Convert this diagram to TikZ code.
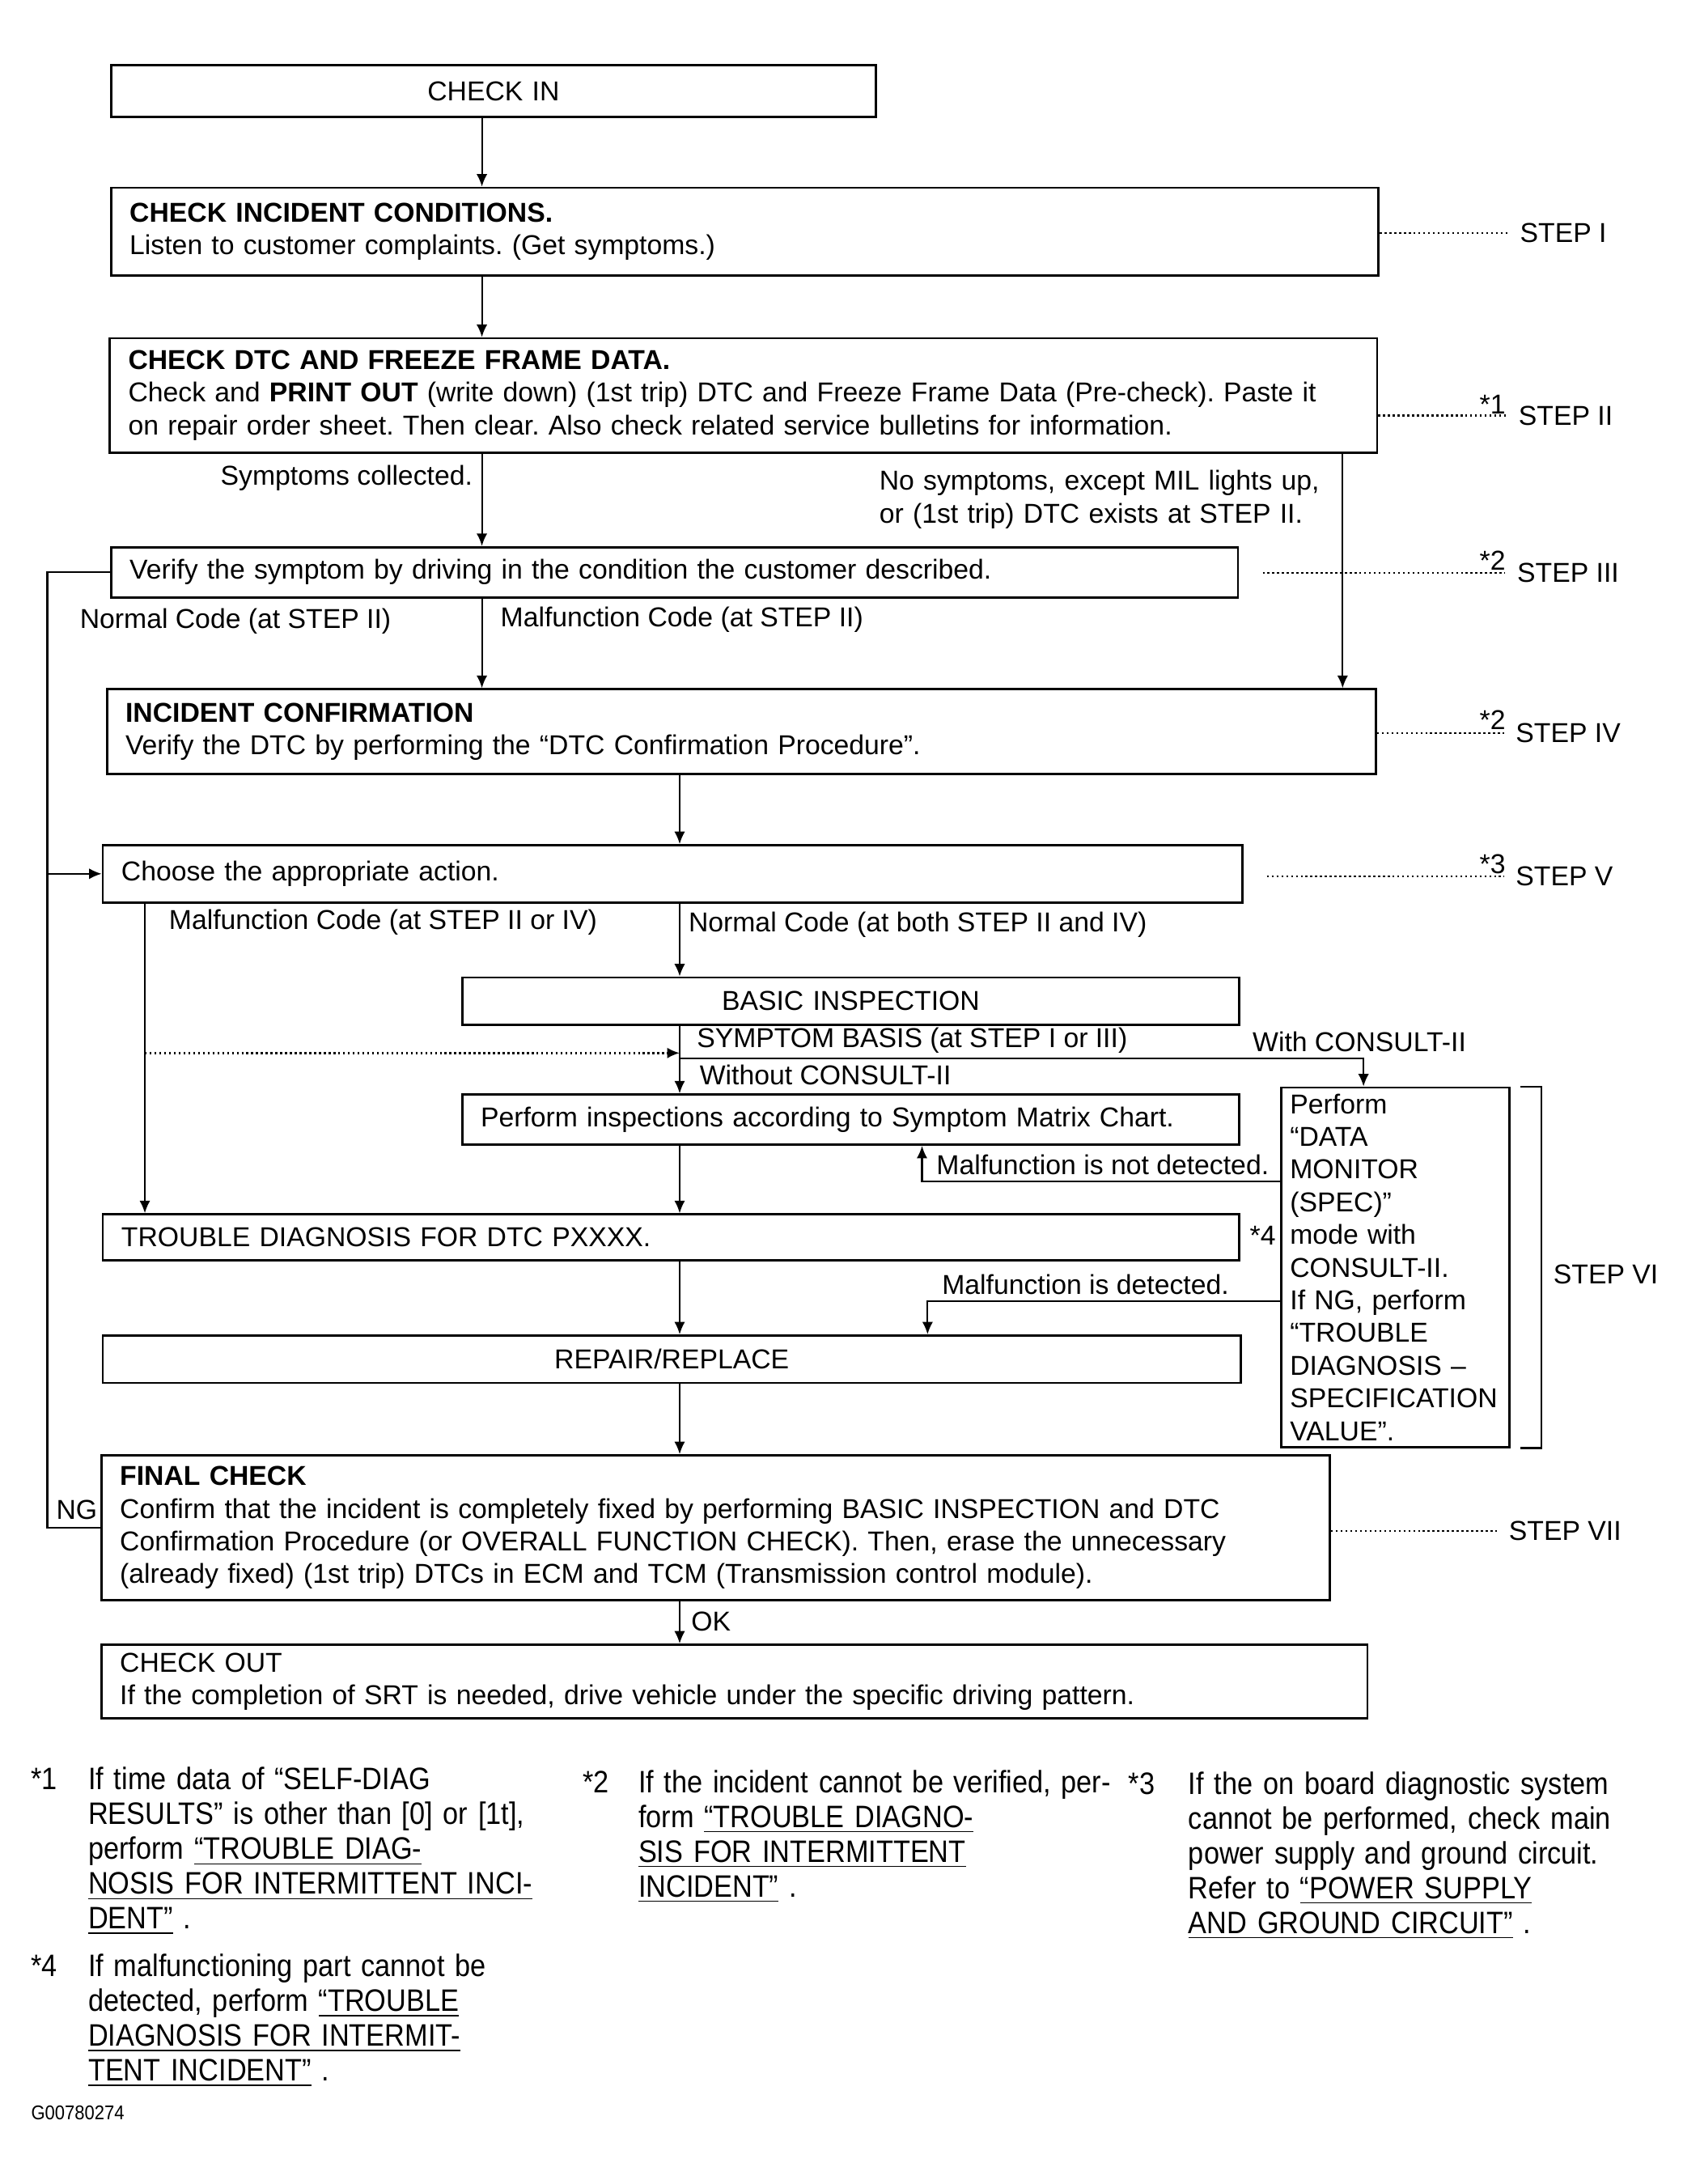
\documentclass[tikz,border=0pt]{standalone}
\usepackage{fontspec}
\setmainfont{Liberation Sans}
\newfontfamily\notefont[FakeStretch=0.895]{Liberation Sans}
\usepackage{tikz}
\usetikzlibrary{arrows.meta,positioning,calc}
\newcommand{\pxu}{0.017219cm}
\hyphenpenalty=10000
\exhyphenpenalty=10000
\frenchspacing

\begin{document}
\begin{tikzpicture}[x=\pxu,y=-\pxu,
  font=\fontsize{9.6}{11.5}\selectfont,
  box/.style 2 args={draw,line width=0.8pt,anchor=north west,
    inner xsep=6.5pt,inner ysep=0pt,minimum width=#1*\pxu,
    minimum height=#2*\pxu,text width=#1*\pxu-13pt,align=left},
  ctr/.style={align=center},
  lbl/.style={anchor=base west,inner sep=0pt},
  ln/.style={line width=0.6pt},
  arr/.style={ln,-{Latex[length=4.4pt,width=3.8pt]}},
  dots/.style={line width=0.7pt,densely dotted},
  note/.style={anchor=base west,inner sep=0pt,align=left,text width=#1*\pxu,
    font=\notefont\fontsize{10.9}{12.24}\selectfont},
]
\useasboundingbox (0,0) rectangle (1208,1568);
\coordinate (ta) at (346,0);
\coordinate (tb) at (488,0);
\coordinate (tc) at (104,0);
\coordinate (td) at (964,0);
\coordinate (te) at (979,0);
\coordinate (lp) at (34,0);

\node[box={549}{37},ctr] (chkin) at (79,46) {CHECK IN};
\node[box={910}{63}] (incid) at (79,134) {\textbf{CHECK INCIDENT CONDITIONS.}\\
  Listen to customer complaints. (Get symptoms.)};
\node[box={910}{82}] (dtc) at (78,242) {\textbf{CHECK DTC AND FREEZE FRAME DATA.}\\
  Check and \textbf{PRINT OUT} (write down) (1st trip) DTC and Freeze Frame Data (Pre-check). Paste it\\
  on repair order sheet. Then clear. Also check related service bulletins for information.};
\node[box={809}{36}] (verify) at (79,392) {Verify the symptom by driving in the condition the customer described.};
\node[box={911}{61}] (conf) at (76,494) {\textbf{INCIDENT CONFIRMATION}\\
  Verify the DTC by performing the “DTC Confirmation Procedure”.};
\node[box={818}{41}] (choose) at (73,606) {Choose the appropriate action.};
\node[box={558}{34},ctr] (basic) at (331,701) {BASIC INSPECTION};
\node[box={558}{36}] (matrix) at (331,785) {Perform inspections according to Symptom Matrix Chart.};
\node[box={164}{258},inner xsep=3pt,text width=74pt] (monitor) at (919,780) {Perform\\“DATA\\MONITOR\\(SPEC)”\\mode with\\
  CONSULT-II.\\If NG, perform\\“TROUBLE\\DIAGNOSIS –\\SPECIFICATION\\VALUE”.};
\node[box={816}{33}] (trbl) at (73,871) {TROUBLE DIAGNOSIS FOR DTC PXXXX.};
\node[box={817}{34},ctr] (repair) at (73,958) {REPAIR/REPLACE};
\node[box={882}{104}] (final) at (72,1044) {\textbf{FINAL CHECK}\\
  Confirm that the incident is completely fixed by performing BASIC INSPECTION and DTC\\
  Confirmation Procedure (or OVERALL FUNCTION CHECK). Then, erase the unnecessary\\
  (already fixed) (1st trip) DTCs in ECM and TCM (Transmission control module).};
\node[box={909}{53},inner xsep=6pt] (chkout) at (72,1180) {CHECK OUT\\
  If the completion of SRT is needed, drive vehicle under the specific driving pattern.};

\draw[arr] (chkin.south -| ta) -- (incid.north -| ta);
\draw[arr] (incid.south -| ta) -- (dtc.north -| ta);
\draw[arr] (dtc.south -| ta) -- (verify.north -| ta);
\draw[arr] (dtc.south -| td) -- (conf.north -| td);
\draw[arr] (verify.south -| ta) -- (conf.north -| ta);
\draw[ln] (final.west) -| (verify.west -| lp) -- (verify.west);
\draw[arr] (choose.west -| lp) -- (choose.west);
\draw[arr] (conf.south -| tb) -- (choose.north -| tb);
\draw[arr] (choose.south -| tb) -- (basic.north -| tb);
\draw[arr] (choose.south -| tc) -- (trbl.north -| tc);
\draw[arr] (basic.south -| tb) -- (matrix.north -| tb);
\coordinate (sb) at (0,756);
\coordinate (wc) at (0,760);
\draw[dots,-{Latex[length=4.4pt,width=3.8pt]}] (tc |- sb) -- (tb |- sb);
\draw[arr] (tb |- wc) -| (monitor.north -| te);
\coordinate (nd) at (662,848);
\draw[arr] (monitor.west |- nd) -| (matrix.south -| nd);
\draw[arr] (matrix.south -| tb) -- (trbl.north -| tb);
\draw[arr] (trbl.south -| tb) -- (repair.north -| tb);
\coordinate (md) at (666,934);
\draw[arr] (monitor.west |- md) -| (repair.north -| md);
\draw[arr] (repair.south -| tb) -- (final.north -| tb);
\draw[arr] (final.south -| tb) -- (chkout.north -| tb);

\node[lbl] (lcol) at (158,348) {Symptoms collected.};
\node[lbl,text width=340*\pxu] (lnos) at (631,352) {No symptoms, except MIL lights up,\\or (1st trip) DTC exists at STEP II.};
\node[lbl] (lnc1) at (57,451) {Normal Code (at STEP II)};
\node[lbl] (lmc1) at (359,450) {Malfunction Code (at STEP II)};
\node[lbl] (lmc2) at (121,667) {Malfunction Code (at STEP II or IV)};
\node[lbl] (lnc2) at (494,669) {Normal Code (at both STEP II and IV)};
\node[lbl] (lsym) at (500,752) {SYMPTOM BASIS (at STEP I or III)};
\node[lbl] (lwith) at (899,755) {With CONSULT-II};
\node[lbl] (lwo) at (502,779) {Without CONSULT-II};
\node[lbl] (lnot) at (672,843) {Malfunction is not detected.};
\node[lbl] (lstar4) at (897,894) {*4};
\node[lbl] (ldet) at (676,929) {Malfunction is detected.};
\node[lbl] (lng) at (40,1091) {NG};
\node[lbl] (lok) at (496,1171) {OK};

\node[lbl] (s1) at (1091,174) {STEP I};
\node[lbl] (s2) at (1090,305) {STEP II};
\node[lbl] (s3) at (1089,418) {STEP III};
\node[lbl] (s4) at (1088,533) {STEP IV};
\node[lbl] (s5) at (1088,636) {STEP V};
\node[lbl] (s7) at (1083,1106) {STEP VII};
\node[lbl] (k1) at (1062,297) {*1};
\node[lbl] (k2) at (1062,409) {*2};
\node[lbl] (k3) at (1062,524) {*2};
\node[lbl] (k4) at (1062,627) {*3};
\draw[dots,shorten >=4pt] (incid.east |- s1.west) -- (s1.west);
\draw[dots,shorten >=4pt] (dtc.east |- s2.west) -- (s2.west);
\draw[dots,shorten <=8.3pt,shorten >=4pt] (verify.east |- s3.west) -- (s3.west);
\draw[dots,shorten >=4pt] (conf.east |- s4.west) -- (s4.west);
\draw[dots,shorten <=8.3pt,shorten >=4pt] (choose.east |- s5.west) -- (s5.west);
\draw[dots,shorten >=4pt] (final.east |- s7.west) -- (s7.west);
\draw[ln] ($(monitor.north east)+(7,0)$) -- ++(15,0) |- ($(monitor.south east)+(7,0)$)
  node[pos=0.26,right=4pt,inner sep=0pt] (s6) {STEP VI};

\node[note=40] (n1) at (22,1285) {*1};
\node[note=400] (t1) at (63,1285) {If time data of “SELF-DIAG\\RESULTS” is other than [0] or [1t],\\
  perform \underline{“TROUBLE DIAG-}\\\underline{NOSIS FOR INTERMITTENT INCI-}\\\underline{DENT”}~.};
\node[note=40] (n4) at (22,1419) {*4};
\node[note=400] (t4) at (63,1419) {If malfunctioning part cannot be\\detected, perform \underline{“TROUBLE}\\
  \underline{DIAGNOSIS FOR INTERMIT-}\\\underline{TENT INCIDENT”}~.};
\node[note=40] (n2) at (418,1287) {*2};
\node[note=400] (t2) at (458,1287) {If the incident cannot be verified, per-\\form \underline{“TROUBLE DIAGNO-}\\
  \underline{SIS FOR INTERMITTENT}\\\underline{INCIDENT”}~.};
\node[note=40] (n3) at (810,1288) {*3};
\node[note=400] (t3) at (853,1288) {If the on board diagnostic system\\cannot be performed, check main\\
  power supply and ground circuit.\\Refer to \underline{“POWER SUPPLY}\\\underline{AND GROUND CIRCUIT”}~.};
\node[lbl,font=\notefont\fontsize{7}{8}\selectfont] (gid) at (22,1522) {G00780274};
\end{tikzpicture}
\end{document}
